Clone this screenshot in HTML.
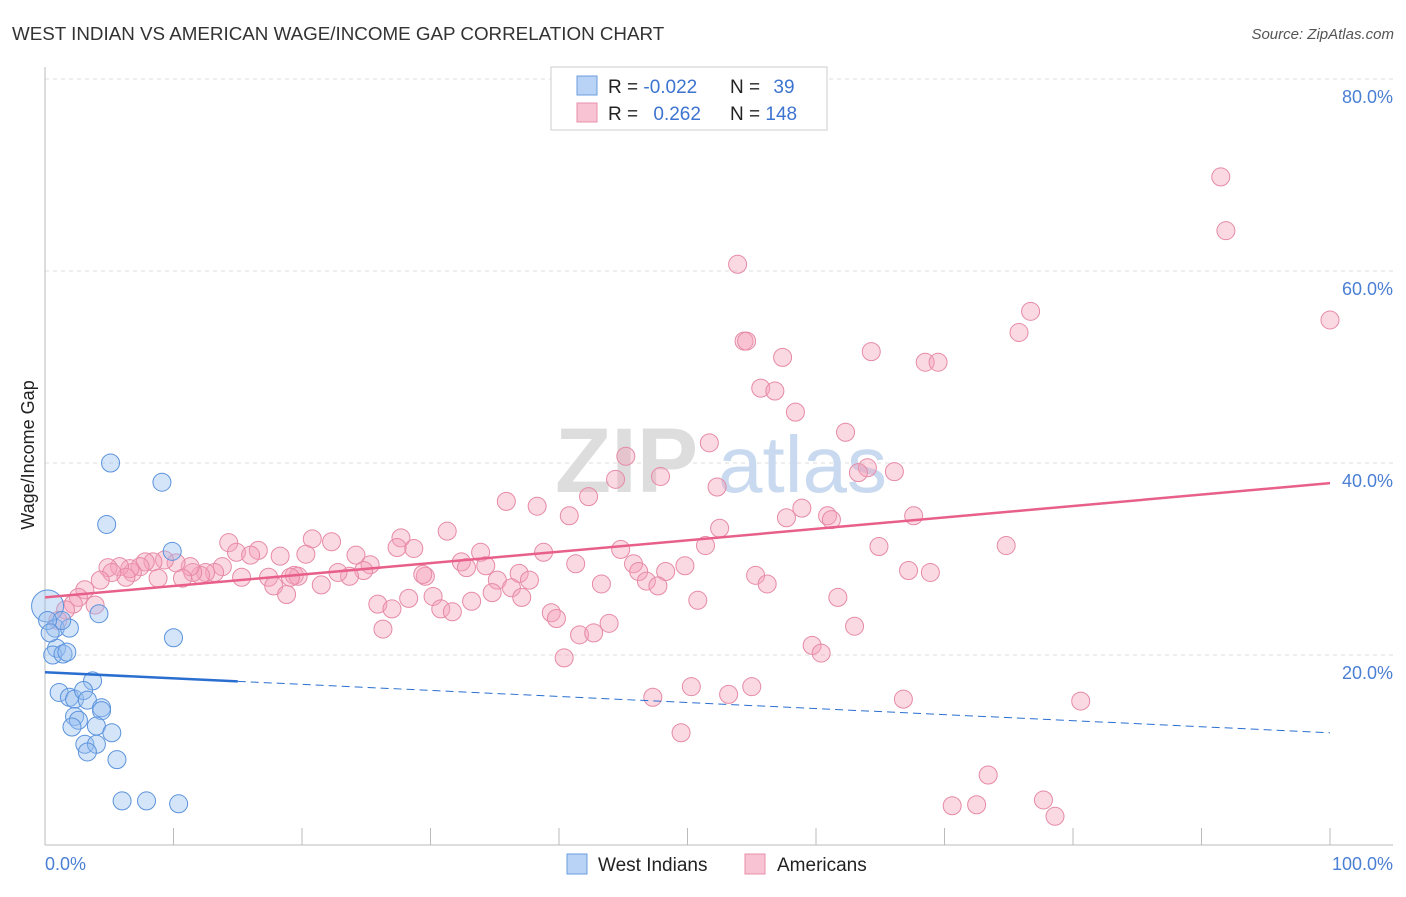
<!DOCTYPE html>
<html><head><meta charset="utf-8"><style>
body{margin:0;background:#fff;font-family:"Liberation Sans",sans-serif;}
svg text{font-family:"Liberation Sans",sans-serif;}
</style></head><body>
<svg id="chart" width="1406" height="892" xmlns="http://www.w3.org/2000/svg">
<text x="12" y="40" font-size="18.8" fill="#333">WEST INDIAN VS AMERICAN WAGE/INCOME GAP CORRELATION CHART</text>
<text x="1394" y="39" font-size="15" fill="#555" text-anchor="end" font-style="italic">Source: ZipAtlas.com</text>
<g id="grid"></g>
<text x="555" y="492" font-size="92" fill="#ddd" font-family="Liberation Serif" font-weight="bold">ZIP</text>
<text x="718" y="492" font-size="80" fill="#c9daf0">atlas</text>
<g id="marks"></g>
<text transform="translate(34,455) rotate(-90)" font-size="18" fill="#222" text-anchor="middle">Wage/Income Gap</text>
<text x="45" y="870" font-size="18" fill="#4a7fd4">0.0%</text>
<text x="1393" y="870" font-size="18" fill="#4a7fd4" text-anchor="end">100.0%</text>
<g>
<rect x="551" y="67" width="276" height="63" fill="#fff" stroke="#ccc"/>
<rect x="577" y="76" width="20" height="19" fill="#b8d3f5" stroke="#6b9ee0"/>
<rect x="577" y="103" width="20" height="19" fill="#f8c3d2" stroke="#e88fab"/>
<text x="608" y="93" font-size="19" fill="#222">R = <tspan fill="#3d74d0">-0.022</tspan></text>
<text x="730" y="93" font-size="19" fill="#222">N = <tspan fill="#3d74d0" dx="8">39</tspan></text>
<text x="608" y="120" font-size="19" fill="#222">R = <tspan fill="#3d74d0" dx="10">0.262</tspan></text>
<text x="730" y="120" font-size="19" fill="#222">N = <tspan fill="#3d74d0">148</tspan></text>
</g>
<g>
<rect x="567" y="854" width="20" height="20" fill="#b8d3f5" stroke="#6b9ee0"/>
<text x="598" y="871" font-size="19" fill="#222">West Indians</text>
<rect x="745" y="854" width="20" height="20" fill="#f8c3d2" stroke="#e88fab"/>
<text x="777" y="871" font-size="19" fill="#222">Americans</text>
</g>
</svg>
<script>
const yTicks=[20,40,60,80];
const xTicks=[0,10,20,30,40,50,60,70,80,90,100];
const blueX=[5.1,9.1,4.8,9.9,4.2,10.0,0.2,0.8,1.9,1.3,0.9,0.6,1.4,1.7,3.7,1.1,1.9,2.3,3.0,3.3,4.4,4.4,2.3,2.6,2.1,4.0,5.2,3.1,4.0,3.3,5.6,6.0,7.9,10.4,0.2,0.4];
const blueY=[40.0,38.0,33.6,30.8,24.3,21.8,25.1,22.8,22.8,23.6,20.7,20.0,20.1,20.3,17.3,16.1,15.6,15.4,16.3,15.3,14.5,14.2,13.6,13.2,12.5,12.6,11.9,10.7,10.7,9.9,9.1,4.8,4.8,4.5,23.6,22.3];
const pinkX=[91.5,91.9,100,53.9,76.7,75.8,54.4,54.6,57.4,64.3,68.5,69.5,55.7,56.8,58.4,62.3,51.7,45.2,47.9,44.4,64.0,63.3,66.1,52.3,42.3,35.9,38.3,40.8,58.9,60.9,61.2,57.7,67.6,52.5,31.3,51.4,44.8,38.8,74.8,64.9,27.7,27.4,28.7,20.8,22.3,14.3,16.6,14.9,16.0,20.3,24.2,18.3,33.9,32.4,32.8,34.3,41.3,45.8,49.8,46.2,48.3,46.8,47.7,36.9,37.7,35.2,36.3,37.1,43.3,55.3,56.2,67.2,68.9,50.8,61.7,63.0,59.7,60.4,55.0,53.2,50.3,47.3,49.5,66.8,80.6,73.4,70.6,72.5,77.7,78.6,29.6,29.4,25.3,24.8,23.7,22.8,21.5,19.4,19.7,19.1,17.4,17.8,18.8,15.3,13.8,13.2,12.5,12.1,11.5,11.3,10.7,10.2,9.3,8.4,7.8,7.4,8.8,6.8,6.6,5.8,4.9,6.3,5.2,4.3,3.1,2.6,3.9,2.2,1.6,1.0,25.9,26.3,27.0,28.3,30.2,30.8,31.7,33.2,34.8,39.4,39.8,40.4,41.6,42.7,43.9];
const pinkY=[69.8,64.2,54.9,60.7,55.8,53.6,52.7,52.7,51.0,51.6,50.5,50.5,47.8,47.5,45.3,43.2,42.1,40.7,38.6,38.3,39.5,39.0,39.1,37.5,36.5,36.0,35.5,34.5,35.3,34.5,34.1,34.3,34.5,33.2,32.9,31.4,31.0,30.7,31.4,31.3,32.2,31.2,31.1,32.1,31.8,31.7,30.9,30.7,30.4,30.5,30.4,30.3,30.7,29.7,29.1,29.3,29.5,29.5,29.3,28.7,28.7,27.7,27.2,28.5,27.8,27.8,27.0,26.0,27.4,28.3,27.4,28.8,28.6,25.7,26.0,23.0,21.0,20.2,16.7,15.9,16.7,15.6,11.9,15.4,15.2,7.5,4.3,4.4,4.9,3.2,28.2,28.4,29.4,28.8,28.2,28.6,27.3,28.3,28.2,28.1,28.1,27.2,26.3,28.1,29.2,28.6,28.6,28.3,28.6,29.2,28.0,29.6,29.9,29.7,29.7,29.2,28.0,28.6,29.0,29.2,29.1,28.1,28.6,27.8,26.8,26.0,25.2,25.3,24.7,23.6,25.3,22.7,24.8,25.9,26.1,24.8,24.5,25.6,26.5,24.4,23.8,19.7,22.1,22.3,23.3];
const blueTrend=[18.2,11.9];
const pinkTrend=[26.0,37.9];
const NS='http://www.w3.org/2000/svg';
function sx(v){return 45+v*12.85;}
function sy(v){return 847-v*9.6;}
function mk(t,a,p){const e=document.createElementNS(NS,t);for(const k in a)e.setAttribute(k,a[k]);p.appendChild(e);return e;}
const grid=document.getElementById('grid');
yTicks.forEach(t=>{
 const l=mk('line',{x1:45,x2:1393,y1:sy(t),y2:sy(t),stroke:'#ddd','stroke-dasharray':'4,4'},grid);
 
 
 const tx=mk('text',{x:1393,y:sy(t)+24,'font-size':18,fill:'#4a7fd4','text-anchor':'end'},grid);
 tx.textContent=t.toFixed(1)+'%';
 
 
});
mk('line',{x1:45,x2:45,y1:67,y2:845,stroke:'#bbb'},grid);
mk('line',{x1:45,x2:1393,y1:845,y2:845,stroke:'#bbb'},grid);
xTicks.forEach(t=>{
 const l=mk('line',{x1:sx(t),x2:sx(t),y1:828,y2:845,stroke:'#bbb'},grid);
 
 
});
const marks=document.getElementById('marks');
pinkX.forEach((x,i)=>{
 const c=mk('circle',{cx:sx(x),cy:sy(pinkY[i]),r:9,fill:'rgba(244,160,186,0.4)',stroke:'#e68aa6','stroke-width':1},marks);
 
 
});
blueX.forEach((x,i)=>{
 const c=mk('circle',{cx:sx(x),cy:sy(blueY[i]),r:i==6?16:9,fill:'rgba(150,190,240,0.4)',stroke:'#5b93dc','stroke-width':1},marks);
 
 
});
const pl=mk('line',{x1:sx(0),y1:sy(pinkTrend[0]),x2:sx(100),y2:sy(pinkTrend[1]),stroke:'#e8608a','stroke-width':2.5},marks);


const bxEnd=15;
const byEnd=blueTrend[0]+(blueTrend[1]-blueTrend[0])*bxEnd/100;
const bl=mk('line',{x1:sx(0),y1:sy(blueTrend[0]),x2:sx(bxEnd),y2:sy(byEnd),stroke:'#2a6fd0','stroke-width':2.5},marks);


const bd=mk('line',{x1:sx(bxEnd),y1:sy(byEnd),x2:sx(100),y2:sy(blueTrend[1]),stroke:'#2a6fd0','stroke-width':1,'stroke-dasharray':'8,5'},marks);


</script>
</body></html>
